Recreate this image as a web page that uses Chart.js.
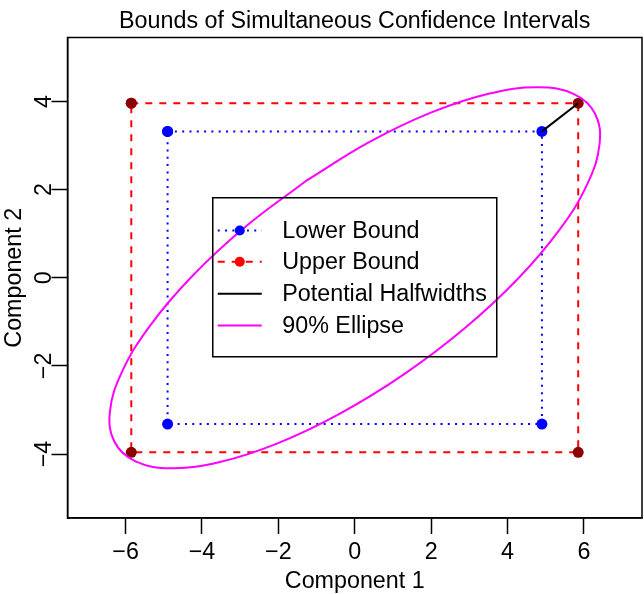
<!DOCTYPE html>
<html>
<head>
<meta charset="utf-8">
<script src="https://cdn.jsdelivr.net/npm/chart.js@4.4.1/dist/chart.umd.min.js"></script>
<style>
  html, body { margin: 0; padding: 0; background: #ffffff; }
  #wrap { width: 644px; height: 594px; }
</style>
</head>
<body>
<div id="wrap"><canvas id="c" width="644" height="594"></canvas></div>
<script>
// ---- data ----
const chartTitle = "Bounds of Simultaneous Confidence Intervals";
const xTitle = "Component 1";
const yTitle = "Component 2";
const xTicks = [-6, -4, -2, 0, 2, 4, 6];
const yTicks = [-4, -2, 0, 2, 4];
const xRange = [-7.52, 7.52];
const yRange = [-5.45, 5.45];

const lowerX = [-4.9, 4.9, 4.9, -4.9, -4.9];
const lowerY = [3.32, 3.32, -3.32, -3.32, 3.32];

const upperX = [-5.85, 5.85, 5.85, -5.85, -5.85];
const upperY = [3.96, 3.96, -3.96, -3.96, 3.96];

const halfX = [4.9, 5.85];
const halfY = [3.32, 3.96];

// points read around the 90% ellipse (closed loop)
const ellipseX = [-1.295, -2.878, -4.265, -5.362, -6.093, -6.409, -6.288, -5.739, -4.798, -3.531, -2.023, -0.376,
                  1.295, 2.878, 4.265, 5.362, 6.093, 6.409, 6.288, 5.739, 4.798, 3.531, 2.023, 0.376, -1.295];
const ellipseY = [2.185, 1.146, 0.029, -1.090, -2.135, -3.035, -3.727, -4.165, -4.320, -4.180, -3.756, -3.075,
                  -2.185, -1.146, -0.029, 1.090, 2.135, 3.035, 3.727, 4.165, 4.320, 4.180, 3.756, 3.075, 2.185];

const legendLabels = ["Lower Bound", "Upper Bound", "Potential Halfwidths", "90% Ellipse"];

// ---- build ----
const pts = (xs, ys) => xs.map((x, i) => ({ x: x, y: ys[i] }));
const FONT = "'Liberation Sans', Arial, Helvetica, sans-serif";
const FS = 23.3;
const minus = v => String(v).replace('-', '\u2212');

const boxPlugin = {
  id: 'box',
  afterDraw(chart) {
    const { ctx, chartArea: a } = chart;
    ctx.save();
    ctx.strokeStyle = '#000';
    ctx.lineWidth = 1.5;
    ctx.strokeRect(a.left, a.top, a.right - a.left, a.bottom - a.top);
    // main title, centred over the plot region
    ctx.fillStyle = '#000';
    ctx.font = FS + 'px ' + FONT;
    ctx.textAlign = 'center';
    ctx.textBaseline = 'alphabetic';
    ctx.fillText(chartTitle, (a.left + a.right) / 2, 28);
    ctx.restore();
  }
};

const legendPlugin = {
  id: 'rlegend',
  afterDraw(chart) {
    const { ctx, chartArea: a } = chart;
    const ds = chart.data.datasets;
    const w = 284, h = 159;
    const cx = (a.left + a.right) / 2, cy = (a.top + a.bottom) / 2;
    const left = cx - w / 2, top = cy - h / 2 - 0.5;
    ctx.save();
    ctx.strokeStyle = '#000';
    ctx.lineWidth = 1.5;
    ctx.strokeRect(left, top, w, h);
    const rows = [32.7, 64, 96, 127.7];
    ctx.font = FS + 'px ' + FONT;
    ctx.textBaseline = 'middle';
    ctx.textAlign = 'left';
    [0, 1, 2, 3].forEach((k, i) => {
      const d = ds[k];
      const y = top + rows[i];
      ctx.save();
      ctx.strokeStyle = d.legendLine;
      ctx.lineWidth = d.borderWidth;
      ctx.setLineDash(d.borderDash || []);
      ctx.beginPath();
      ctx.moveTo(left + 5, y);
      ctx.lineTo(left + 49, y);
      ctx.stroke();
      ctx.restore();
      if (d.legendPoint) {
        ctx.save();
        ctx.fillStyle = d.legendPoint;
        ctx.beginPath();
        ctx.arc(left + 27, y, 5, 0, Math.PI * 2);
        ctx.fill();
        ctx.restore();
      }
      ctx.fillStyle = '#000';
      ctx.fillText(legendLabels[i], left + 69.5, y + 1);
    });
    ctx.restore();
  }
};

const chart = new Chart(document.getElementById('c'), {
  type: 'scatter',
  data: {
    datasets: [
      {
        label: legendLabels[0], data: pts(lowerX, lowerY), showLine: true,
        borderColor: '#0000FF', borderWidth: 2, borderDash: [2, 5.3],
        pointRadius: 5.5, pointBackgroundColor: '#0000FF', pointBorderWidth: 0,
        legendLine: '#0000FF', legendPoint: '#0000FF', order: 4
      },
      {
        label: legendLabels[1], data: pts(upperX, upperY), showLine: true,
        borderColor: '#FF0000', borderWidth: 2, borderDash: [7, 7],
        pointRadius: 5.5, pointBackgroundColor: '#8B0000', pointBorderWidth: 0,
        legendLine: '#FF0000', legendPoint: '#FF0000', order: 3
      },
      {
        label: legendLabels[2], data: pts(halfX, halfY), showLine: true,
        borderColor: '#000000', borderWidth: 2, pointRadius: 0,
        legendLine: '#000000', order: 2
      },
      {
        label: legendLabels[3], data: pts(ellipseX, ellipseY), showLine: true,
        borderColor: '#FF00FF', borderWidth: 2, pointRadius: 0, tension: 0.4,
        legendLine: '#FF00FF', order: 1
      }
    ]
  },
  options: {
    responsive: false,
    animation: false,
    devicePixelRatio: 1,
    layout: { autoPadding: false, padding: { left: 0, right: 2, top: 37.5, bottom: 0 } },
    plugins: {
      legend: { display: false },
      tooltip: { enabled: false },
      title: { display: false }
    },
    scales: {
      x: {
        type: 'linear', min: xRange[0], max: xRange[1],
        afterBuildTicks: s => { s.ticks = xTicks.map(v => ({ value: v })); },
        afterFit: s => { s.height = 76; s.paddingLeft = 0; s.paddingRight = 0; },
        grid: { drawOnChartArea: false, drawTicks: true, tickLength: 16, color: '#000', tickWidth: 1.5 },
        border: { display: true, color: '#000', width: 1.5 },
        ticks: {
          color: '#000', font: { family: FONT, size: FS }, padding: 5,
          autoSkip: false, maxRotation: 0, minRotation: 0,
          callback: v => minus(v)
        },
        title: {
          display: true, text: xTitle, color: '#000',
          font: { family: FONT, size: FS }, padding: { top: 0, bottom: -2 }
        }
      },
      y: {
        type: 'linear', min: yRange[0], max: yRange[1],
        afterBuildTicks: s => { s.ticks = yTicks.map(v => ({ value: v })); },
        afterFit: s => { s.width = 67.5; s.paddingTop = 0; s.paddingBottom = 0; },
        grid: { drawOnChartArea: false, drawTicks: true, tickLength: 16, color: '#000', tickWidth: 1.5 },
        border: { display: true, color: '#000', width: 1.5 },
        ticks: {
          color: '#000', font: { family: FONT, size: FS }, padding: -6.5,
          autoSkip: false, minRotation: 90, maxRotation: 90, crossAlign: 'center',
          callback: v => minus(v)
        },
        title: {
          display: true, text: yTitle, color: '#000',
          font: { family: FONT, size: FS }, padding: { top: 1, bottom: 0 }
        }
      }
    }
  },
  plugins: [boxPlugin, legendPlugin]
});
</script>
</body>
</html>
